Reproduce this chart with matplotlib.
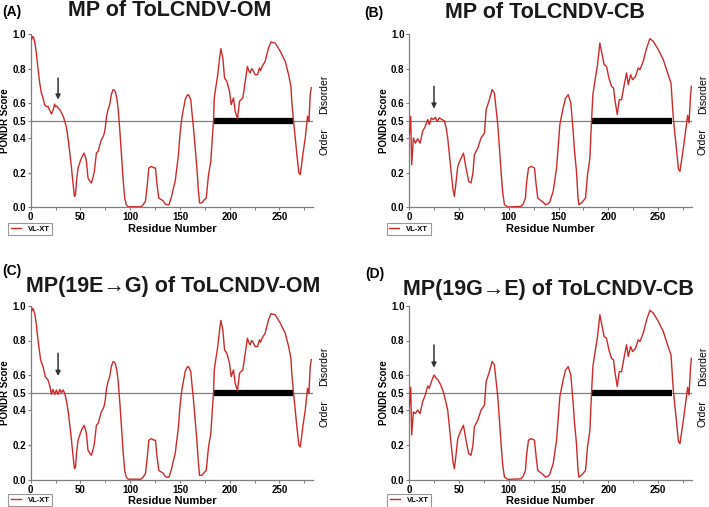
import matplotlib
matplotlib.use("Agg")
import matplotlib.pyplot as plt
from matplotlib.ticker import MultipleLocator

plt.rcParams['font.family'] = ['Liberation Sans', 'DejaVu Sans']

# ---------------- data ----------------
# N-terminal part of each construct (differs between panels)
om_nterm_res = [0, 1, 2, 3, 4, 5.5, 7.3, 9, 10.7, 12, 14, 16, 17.4, 19, 20.8, 22.5, 24, 25, 26,
                27.5, 29, 31, 33, 34.2, 36]
om_nterm_val = [0.975, 0.97, 0.985, 0.98, 0.955, 0.90, 0.80, 0.72, 0.66, 0.64, 0.592, 0.58, 0.582,
                0.56, 0.539, 0.56, 0.596, 0.58, 0.585, 0.573, 0.565, 0.544, 0.52, 0.496, 0.46]

om_mut_nterm_res = [0, 1, 2.3, 4, 5.5, 7.3, 10, 12.4, 14.7, 17.4, 19.4, 20.8, 22.4, 24.1, 25.8,
                    27.5, 29.1, 30.8, 32.5, 34.2, 36]
om_mut_nterm_val = [0.975, 0.97, 0.985, 0.956, 0.90, 0.803, 0.688, 0.649, 0.592, 0.573, 0.535,
                    0.49, 0.519, 0.49, 0.516, 0.49, 0.519, 0.50, 0.516, 0.497, 0.45]

cb_nterm_res = [0, 1.4, 2.4, 4.1, 6.1, 8.4, 10.8, 13.4, 16.1, 18.5, 20.1, 22.2, 24.2, 26.2, 27.9,
                30.2, 32.9, 35.2, 37]
cb_nterm_val = [0.42, 0.525, 0.246, 0.40, 0.37, 0.396, 0.37, 0.438, 0.467, 0.506, 0.477, 0.516,
                0.506, 0.519, 0.496, 0.516, 0.506, 0.50, 0.46]

cb_mut_nterm_res = [0, 1.4, 2.4, 4.1, 6.1, 8.4, 10.8, 13.4, 16.1, 18.5, 20.1, 22.8, 24.9, 26.9,
                    28.9, 31.6, 34.2, 37]
cb_mut_nterm_val = [0.42, 0.531, 0.257, 0.39, 0.38, 0.40, 0.38, 0.448, 0.487, 0.539, 0.525, 0.573,
                    0.602, 0.583, 0.573, 0.544, 0.506, 0.44]

# remainder of the ToLCNDV-OM MP profile
om_tail_res = [37.5, 39, 41, 42.5, 44, 45, 46, 47.6, 49.5, 51, 53.6, 55, 56, 57.6, 59, 61, 62.5,
               64, 65, 66, 68, 69, 71, 73, 74, 75, 76, 77.5, 79.4, 81, 82.8, 84, 85, 86.5, 87.8,
               89.5, 91, 93, 94.5, 96, 98, 111, 113, 115.3, 117, 118.7, 121.4, 123.5, 125.4, 127,
               128.7, 131, 133, 135, 136.5, 139, 141.5, 143, 145.2, 148.5, 150, 151.9, 155.2, 157,
               158.6, 160.9, 162, 163.6, 165.5, 167, 168.5, 169.7, 172, 174, 176.4, 178.7, 181,
               182.5, 183.7, 184.5, 185.4, 188, 190, 191.1, 193.1, 194.8, 197.1, 199.8, 201.5,
               203.8, 205.5, 207.8, 209.9, 213.2, 215.6, 217.8, 219, 220.6, 222, 223.1, 225.6,
               227.9, 229.9, 231, 232.3, 235.6, 239, 241.4, 245.7, 250.8, 255.8, 259.2, 261.5,
               262.5, 264.2, 267.5, 269.5, 270.9, 273.5, 275.9, 278.2, 279, 279.6, 280.9, 282]
om_tail_val = [0.40, 0.33, 0.227, 0.14, 0.063, 0.07, 0.15, 0.227, 0.26, 0.284, 0.313, 0.29, 0.265,
               0.169, 0.155, 0.14, 0.17, 0.207, 0.26, 0.313, 0.325, 0.35, 0.39, 0.41, 0.428, 0.46,
               0.516, 0.56, 0.592, 0.65, 0.679, 0.675, 0.669, 0.63, 0.573, 0.45, 0.32, 0.15, 0.053,
               0.015, 0.003, 0.003, 0.015, 0.035, 0.12, 0.227, 0.236, 0.228, 0.227, 0.13, 0.053,
               0.045, 0.038, 0.02, 0.015, 0.015, 0.06, 0.10, 0.15, 0.304, 0.42, 0.516, 0.621,
               0.645, 0.65, 0.621, 0.55, 0.458, 0.33, 0.227, 0.10, 0.025, 0.025, 0.04, 0.053,
               0.188, 0.265, 0.40, 0.496, 0.63, 0.669, 0.766, 0.87, 0.915, 0.861, 0.746, 0.727,
               0.669, 0.592, 0.631, 0.554, 0.512, 0.612, 0.631, 0.727, 0.813, 0.79, 0.775, 0.80,
               0.794, 0.765, 0.765, 0.804, 0.79, 0.81, 0.842, 0.919, 0.954, 0.948, 0.90, 0.842,
               0.765, 0.698, 0.60, 0.496, 0.304, 0.20, 0.188, 0.304, 0.40, 0.525, 0.50, 0.496,
               0.65, 0.69]

# remainder of the ToLCNDV-CB MP profile
cb_tail_res = [38.6, 40, 42, 44, 45.3, 46.5, 48.7, 51.3, 54.4, 57, 59.7, 62, 64, 65.4, 68.8, 72.1,
               75.5, 77.2, 80.5, 83.2, 85.5, 87, 88.9, 90.5, 92.2, 94, 95.6, 99, 112.4, 114.5,
               116.7, 118, 119.8, 122.4, 125.8, 127.5, 129.1, 132.5, 134.5, 136.9, 139.5, 141,
               144.6, 148, 151.3, 154.6, 157, 159.7, 162.3, 164.7, 166, 168, 169.5, 170.4, 173,
               177.1, 179.1, 181.5, 183.1, 184.5, 186.5, 189.2, 191.5, 193.8, 195.8, 198.2, 200.6,
               203.2, 205.3, 206.6, 209, 211, 213.3, 216, 218.4, 220, 222.4, 224.4, 227.4, 230,
               231.8, 235.1, 238.5, 241.8, 245.2, 250.2, 255.2, 259.6, 263, 265.3, 268.7, 270.5,
               272, 275.4, 278.1, 279.7, 281.1, 282.7, 283.5]
cb_tail_val = [0.40, 0.32, 0.207, 0.10, 0.063, 0.12, 0.236, 0.275, 0.313, 0.227, 0.15, 0.14, 0.20,
               0.304, 0.342, 0.40, 0.428, 0.563, 0.621, 0.679, 0.66, 0.58, 0.477, 0.35, 0.207,
               0.08, 0.015, 0.002, 0.005, 0.02, 0.053, 0.15, 0.227, 0.236, 0.227, 0.13, 0.053,
               0.038, 0.03, 0.015, 0.02, 0.03, 0.092, 0.227, 0.477, 0.573, 0.63, 0.65, 0.602,
               0.438, 0.33, 0.207, 0.06, 0.015, 0.025, 0.053, 0.188, 0.284, 0.496, 0.65, 0.727,
               0.823, 0.948, 0.881, 0.823, 0.813, 0.746, 0.698, 0.688, 0.621, 0.535, 0.621, 0.621,
               0.708, 0.775, 0.708, 0.765, 0.736, 0.756, 0.804, 0.794, 0.842, 0.919, 0.973, 0.958,
               0.91, 0.852, 0.775, 0.717, 0.516, 0.323, 0.22, 0.207, 0.342, 0.458, 0.531, 0.487,
               0.65, 0.698]

panel_letters = ['(A)', '(B)', '(C)', '(D)']
panel_titles = ['MP of ToLCNDV-OM', 'MP of ToLCNDV-CB',
                'MP(19E\u2192G) of ToLCNDV-OM', 'MP(19G\u2192E) of ToLCNDV-CB']
# disordered region bars (start, end)
bar_om = (183, 264)
bar_cb = (183, 264)
# marked residue arrows: (x, arrow top score, arrow tip score)
arrows = [(27.5, 0.746, 0.621), (24.8, 0.698, 0.569), (27.5, 0.726, 0.596), (24.8, 0.774, 0.644)]

series = [
    (om_nterm_res + om_tail_res, om_nterm_val + om_tail_val, bar_om),
    (cb_nterm_res + cb_tail_res, cb_nterm_val + cb_tail_val, bar_cb),
    (om_mut_nterm_res + om_tail_res, om_mut_nterm_val + om_tail_val, bar_om),
    (cb_mut_nterm_res + cb_tail_res, cb_mut_nterm_val + cb_tail_val, bar_cb),
]

# ---------------- layout ----------------
W, H = 709, 507
fig = plt.figure(figsize=(W / 100, H / 100), dpi=100)

ax_w = 282.6 / W
positions = [
    (30.7 / W, 1 - 207.3 / H, ax_w, 173.3 / H),
    (409.3 / W, 1 - 207.3 / H, ax_w, 173.3 / H),
    (30.7 / W, 1 - 479.7 / H, ax_w, 174.0 / H),
    (409.3 / W, 1 - 479.7 / H, ax_w, 174.0 / H),
]
letter_pos = [(2.5, 11.7), (364.5, 13), (2.5, 270.5), (365.5, 274)]
title_pos = [(170, 11), (545, 12), (173, 286.3), (548, 289.5)]
legend_pos = [(8, 222.7), (386.7, 222.7), (8, 493.7), (387, 494)]

red = '#cc2b2b'
gray = '#7f7f7f'

for i in range(4):
    ax = fig.add_axes(positions[i])
    res, val, bar = series[i]
    ax.axhline(0.5, color=gray, lw=0.9, zorder=1)
    ax.plot(bar, [0.5, 0.5], color='black', lw=4.5, solid_capstyle='butt', zorder=2)
    ax.plot(res, val, color=red, lw=1.0, zorder=3, label='VL-XT')
    ax.set_xlim(0, 284)
    ax.set_ylim(0, 1.0)
    ax.set_yticks([0.0, 0.2, 0.4, 0.5, 0.6, 0.8, 1.0])
    ax.set_yticklabels(['0.0', '0.2', '0.4', '0.5', '0.6', '0.8', '1.0'])
    ax.xaxis.set_major_locator(MultipleLocator(50))
    ax.xaxis.set_minor_locator(MultipleLocator(25))
    for s in ['top', 'right']:
        ax.spines[s].set_visible(False)
    for s in ['left', 'bottom']:
        ax.spines[s].set_color(gray)
        ax.spines[s].set_linewidth(0.9)
    ax.tick_params(which='major', length=2.5, width=0.8, color=gray, labelsize=7, pad=1)
    ax.tick_params(which='minor', length=2, width=0.7, color=gray)
    for lab in ax.get_xticklabels() + ax.get_yticklabels():
        lab.set_fontweight('bold')
    ax.set_xlabel('Residue Number', fontsize=8, fontweight='bold', labelpad=1)
    ax.set_ylabel('PONDR Score', fontsize=7, fontweight='bold', labelpad=1.5)

    ax.text(1.039, 0.654, 'Disorder', transform=ax.transAxes, rotation=90,
            ha='center', va='center', fontsize=7.5)
    ax.text(1.039, 0.379, 'Order', transform=ax.transAxes, rotation=90,
            ha='center', va='center', fontsize=7.5)

    ax_x, a_top, a_tip = arrows[i]
    ax.annotate('', xy=(ax_x, a_tip), xytext=(ax_x, a_top),
                arrowprops=dict(arrowstyle='-|>', color='#333333', lw=1.1,
                                mutation_scale=7, shrinkA=0, shrinkB=0), zorder=4)

    lx, ly = legend_pos[i]
    leg = ax.legend(loc='upper left', bbox_to_anchor=(lx / W, 1 - ly / H),
                    bbox_transform=fig.transFigure, handlelength=1.3,
                    handletextpad=0.9, borderpad=0.35, borderaxespad=0, frameon=True,
                    fancybox=False, prop={'weight': 'bold', 'size': 5.5})
    leg.get_frame().set_edgecolor(gray)
    leg.get_frame().set_linewidth(0.8)

    fx, fy = letter_pos[i]
    fig.text(fx / W, 1 - fy / H, panel_letters[i], ha='left', va='center',
             fontsize=10, fontweight='bold')
    tx, ty = title_pos[i]
    fig.text(tx / W, 1 - ty / H, panel_titles[i], ha='center', va='center',
             fontsize=15.5, fontweight='bold', color='#1a1a1a')

fig.savefig('out.png', dpi=100)
